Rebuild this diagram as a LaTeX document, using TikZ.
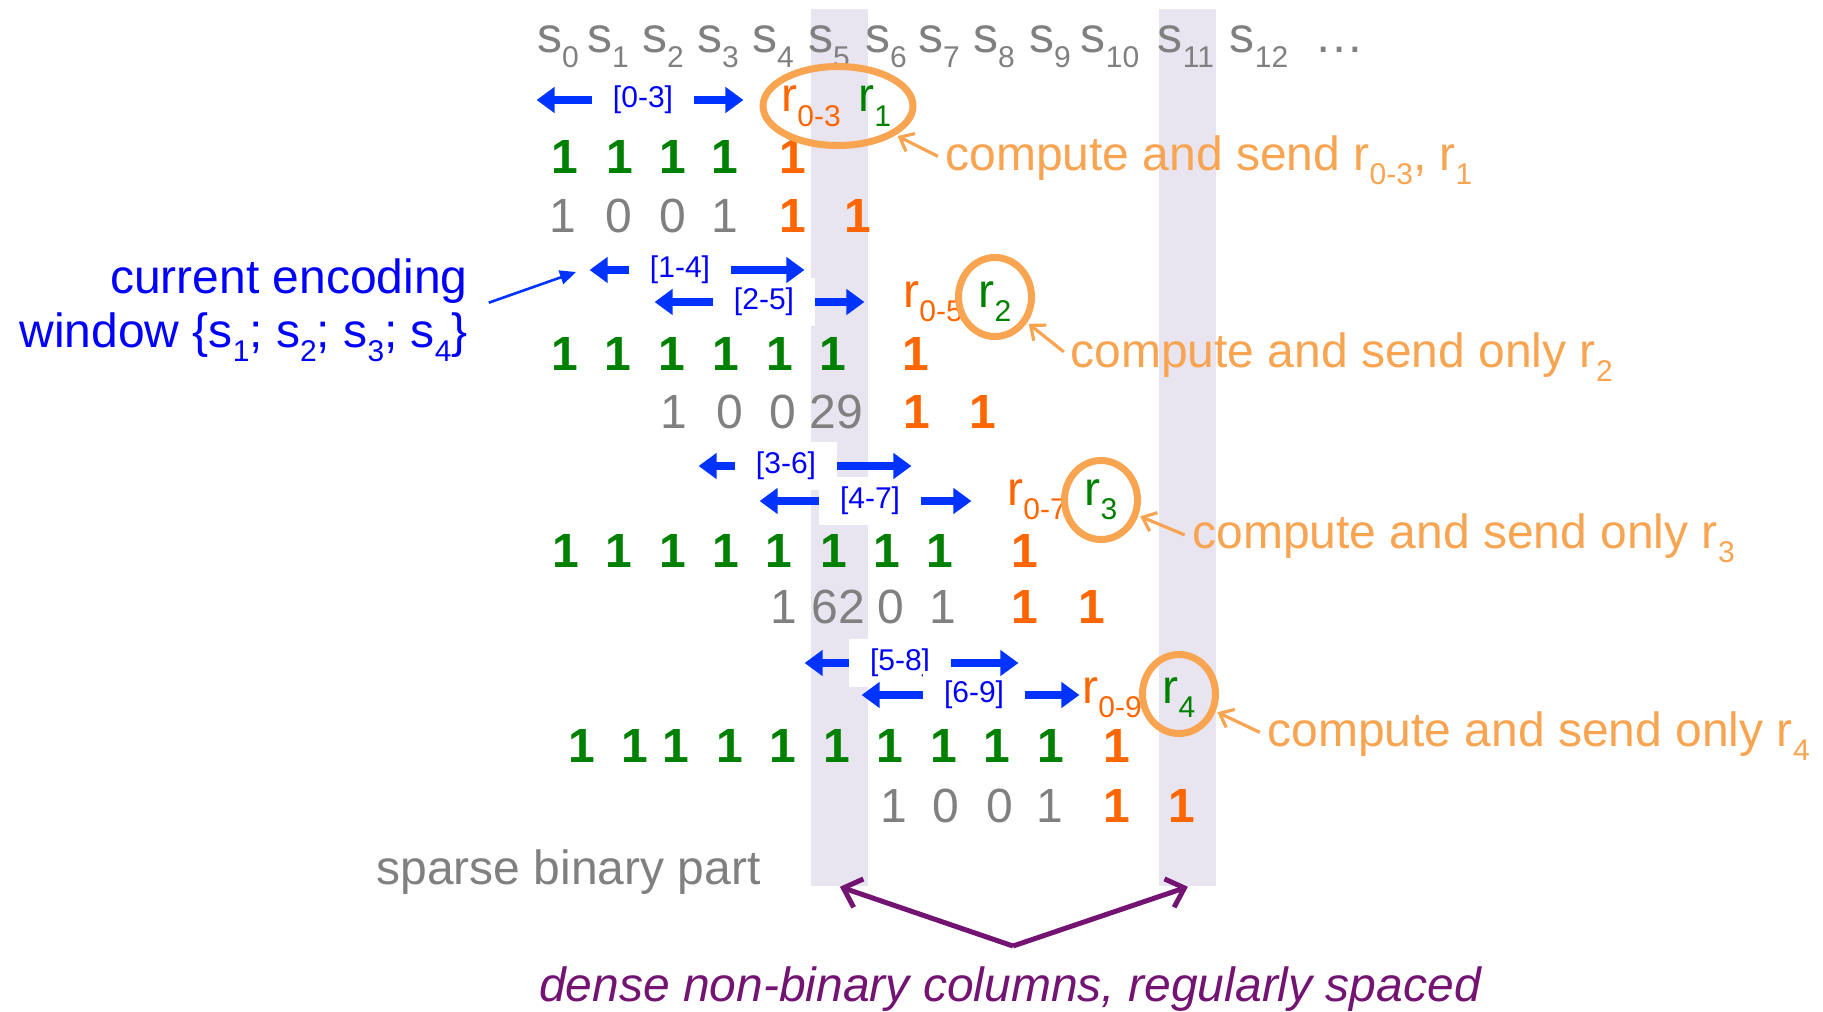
\documentclass[tikz,border=0pt]{standalone}
\usepackage{fontspec}
\setmainfont{Liberation Sans}
\usepackage{xcolor}
\usepackage{tikz}
\usetikzlibrary{calc,positioning,shapes.geometric,arrows.meta}

\definecolor{hdrGray}{RGB}{128,128,128}
\definecolor{bitGreen}{RGB}{0,128,0}
\definecolor{bitOrange}{RGB}{255,102,0}
\definecolor{noteOrange}{RGB}{249,164,81}
\definecolor{winBlue}{RGB}{0,51,255}
\definecolor{txtBlue}{RGB}{0,0,255}
\definecolor{denseShade}{RGB}{232,228,240}
\definecolor{densePurple}{RGB}{115,20,115}

% lowered index, used for s_i and r_i
\newcommand{\subIdx}[1]{\raisebox{-0.3em}{\fontsize{15}{15}\selectfont #1}}

\begin{document}
\begin{tikzpicture}[x=0.5pt, y=-0.5pt]
  % one unit = one pixel of the 1823 x 1011 sheet, y pointing down
  \tikzset{
    hdrCell/.style={anchor=base, inner sep=0pt, text=hdrGray, font=\fontsize{25}{28}\selectfont},
    oneBit/.style={anchor=base, inner sep=0pt, text=bitGreen, font=\fontsize{24}{27}\selectfont\bfseries},
    parBit/.style={oneBit, text=bitOrange},
    rawBit/.style={anchor=base, inner sep=0pt, text=hdrGray, font=\fontsize{24}{27}\selectfont},
    winLabel/.style={fill=white, inner xsep=10.5pt, inner ysep=5pt, text=txtBlue, font=\fontsize{15}{17}\selectfont},
    winArrow/.style={draw=winBlue, line width=4pt, -{Triangle[length=9pt,width=12.5pt]}},
    redLabel/.style={anchor=base west, inner sep=0pt, text=bitOrange, font=\fontsize{24}{27}\selectfont},
    greenLabel/.style={redLabel, text=bitGreen},
    pickEllipse/.style={draw=noteOrange, line width=3.5pt, ellipse, inner sep=0pt},
    noteText/.style={anchor=base west, inner sep=0pt, text=noteOrange, font=\fontsize{24}{27}\selectfont},
    notePtr/.style={draw=noteOrange, line width=1.6pt, shorten <=4pt, shorten >=1pt, -{Straight Barb[length=6pt,width=10pt]}},
    curText/.style={inner sep=0pt, align=right, text=txtBlue, font=\fontsize{24}{27}\selectfont},
    curPtr/.style={draw=winBlue, line width=1.3pt, shorten <=11pt, -{Triangle[length=8pt,width=7pt]}},
    denseCol/.style={draw=none, fill=denseShade, inner sep=0pt, minimum width=28.5pt, minimum height=438.5pt, anchor=north west},
    denseArrow/.style={draw=densePurple, line width=2.5pt, -{Straight Barb[length=8pt,width=15pt]}},
    sideText/.style={inner sep=0pt, text=hdrGray, font=\fontsize{24}{27}\selectfont}
  }
  \useasboundingbox (0,0) rectangle (1823,1011);

% --- Dense columns (background) ---
  \node[denseCol] (col5) at (811,9) {};
  \node[denseCol] (col11) at (1159,9) {};

% --- Window labels, white boxes first ---
  \node[winLabel] (w03) at (643,100) {[0-3]};
  \node[winLabel] (w14) at (680,270) {[1-4]};
  \node[winLabel] (w25) at (764,302) {[2-5]};
  \node[winLabel] (w36) at (786,466) {[3-6]};
  \node[winLabel] (w47) at (870,501) {[4-7]};
  \node[winLabel] (w58) at (900,663) {[5-8]};
  \node[winLabel] (w69) at (974,695) {[6-9]};

  \draw[winArrow] (w03.west) -- ++(-55,0);
  \draw[winArrow] (w03.east) -- ++(49,0);
  \draw[winArrow] (w14.west) -- ++(-39,0);
  \draw[winArrow] (w14.east) -- ++(73,0);
  \draw[winArrow] (w25.west) -- ++(-58,0);
  \draw[winArrow] (w25.east) -- ++(49,0);
  \draw[winArrow] (w36.west) -- ++(-36,0);
  \draw[winArrow] (w36.east) -- ++(74,0);
  \draw[winArrow] (w47.west) -- ++(-59,0);
  \draw[winArrow] (w47.east) -- ++(50,0);
  \draw[winArrow] (w58.west) -- ++(-44,0);
  \draw[winArrow] (w58.east) -- ++(67,0);
  \draw[winArrow] (w69.west) -- ++(-61,0);
  \draw[winArrow] (w69.east) -- ++(54,0);

% --- Header row s_0 ... s_12 ---
  \node[hdrCell] (s0) at (558,53) {s\subIdx{0}};
  \node[hdrCell] (s1) at (608,53) {s\subIdx{1}};
  \node[hdrCell] (s2) at (663,53) {s\subIdx{2}};
  \node[hdrCell] (s3) at (718,53) {s\subIdx{3}};
  \node[hdrCell] (s4) at (773,53) {s\subIdx{4}};
  \node[hdrCell] (s5) at (829,53) {s\subIdx{5}};
  \node[hdrCell] (s6) at (886,53) {s\subIdx{6}};
  \node[hdrCell] (s7) at (939,53) {s\subIdx{7}};
  \node[hdrCell] (s8) at (994,53) {s\subIdx{8}};
  \node[hdrCell] (s9) at (1050,53) {s\subIdx{9}};
  \node[hdrCell] (s10) at (1110,53) {s\subIdx{10}};
  \node[hdrCell] (s11) at (1186,53) {s\subIdx{11}};
  \node[hdrCell] (s12) at (1259,53) {s\subIdx{12}};
  \node[hdrCell] (sDots) at (1339,53) {\dots};

% --- Block 1 ---
  \node[redLabel] (r03) at (781,112) {r\subIdx{0-3}};
  \node[greenLabel] (rr1) at (858,112) {r\subIdx{1}};

  \node[oneBit] (b1-one-0) at (565,173) {1};
  \node[oneBit] (b1-one-1) at (620,173) {1};
  \node[oneBit] (b1-one-2) at (673,173) {1};
  \node[oneBit] (b1-one-3) at (725,173) {1};
  \node[parBit] (b1-par-0) at (793,173) {1};

  \node[rawBit] (b1-raw-0) at (563,232) {1};
  \node[rawBit] (b1-raw-1) at (619,232) {0};
  \node[rawBit] (b1-raw-2) at (673,232) {0};
  \node[rawBit] (b1-raw-3) at (725,232) {1};
  \node[parBit] (b1-par-1) at (793,232) {1};
  \node[parBit] (b1-par-2) at (858,232) {1};

% --- Block 2 ---
  \node[redLabel] (r05) at (903,307) {r\subIdx{0-5}};
  \node[greenLabel, anchor=base] (rr2) at (995,307) {r\subIdx{2}};

  \node[oneBit] (b2-one-0) at (565,370) {1};
  \node[oneBit] (b2-one-1) at (618,370) {1};
  \node[oneBit] (b2-one-2) at (672,370) {1};
  \node[oneBit] (b2-one-3) at (726,370) {1};
  \node[oneBit] (b2-one-4) at (780,370) {1};
  \node[oneBit] (b2-one-5) at (833,370) {1};
  \node[parBit] (b2-par-0) at (916,370) {1};

  \node[rawBit] (b2-raw-0) at (674,428) {1};
  \node[rawBit] (b2-raw-1) at (730,428) {0};
  \node[rawBit] (b2-raw-2) at (783,428) {0};
  \node[rawBit] (b2-raw-3) at (836,428) {29};
  \node[parBit] (b2-par-1) at (917,428) {1};
  \node[parBit] (b2-par-2) at (983,428) {1};

% --- Block 3 ---
  \node[redLabel] (r07) at (1007,505) {r\subIdx{0-7}};
  \node[greenLabel, anchor=base] (rr3) at (1101,505) {r\subIdx{3}};

  \node[oneBit] (b3-one-0) at (566,567) {1};
  \node[oneBit] (b3-one-1) at (619,567) {1};
  \node[oneBit] (b3-one-2) at (673,567) {1};
  \node[oneBit] (b3-one-3) at (726,567) {1};
  \node[oneBit] (b3-one-4) at (779,567) {1};
  \node[oneBit] (b3-one-5) at (834,567) {1};
  \node[oneBit] (b3-one-6) at (887,567) {1};
  \node[oneBit] (b3-one-7) at (940,567) {1};
  \node[parBit] (b3-par-0) at (1025,567) {1};

  \node[rawBit] (b3-raw-0) at (784,623) {1};
  \node[rawBit] (b3-raw-1) at (838,623) {62};
  \node[rawBit] (b3-raw-2) at (891,623) {0};
  \node[rawBit] (b3-raw-3) at (943,623) {1};
  \node[parBit] (b3-par-1) at (1025,623) {1};
  \node[parBit] (b3-par-2) at (1092,623) {1};

% --- Block 4 ---
  \node[redLabel] (r09) at (1082,703) {r\subIdx{0-9}};
  \node[greenLabel, anchor=base] (rr4) at (1179,703) {r\subIdx{4}};

  \node[oneBit] (b4-one-0) at (582,762) {1};
  \node[oneBit] (b4-one-1) at (635,762) {1};
  \node[oneBit] (b4-one-2) at (676,762) {1};
  \node[oneBit] (b4-one-3) at (730,762) {1};
  \node[oneBit] (b4-one-4) at (783,762) {1};
  \node[oneBit] (b4-one-5) at (837,762) {1};
  \node[oneBit] (b4-one-6) at (890,762) {1};
  \node[oneBit] (b4-one-7) at (944,762) {1};
  \node[oneBit] (b4-one-8) at (997,762) {1};
  \node[oneBit] (b4-one-9) at (1051,762) {1};
  \node[parBit] (b4-par-0) at (1117,762) {1};

  \node[rawBit] (b4-raw-0) at (894,822) {1};
  \node[rawBit] (b4-raw-1) at (946,822) {0};
  \node[rawBit] (b4-raw-2) at (1000,822) {0};
  \node[rawBit] (b4-raw-3) at (1050,822) {1};
  \node[parBit] (b4-par-1) at (1117,822) {1};
  \node[parBit] (b4-par-2) at (1182,822) {1};

% --- Picked values, ringed ---
  \node[pickEllipse, minimum width=75pt, minimum height=39.5pt] (pick1) at (838,106) {};
  \node[pickEllipse, minimum width=36.5pt, minimum height=39.5pt] (pick2) at (995,297) {};
  \node[pickEllipse, minimum width=36.5pt, minimum height=39.5pt] (pick3) at (1101,500) {};
  \node[pickEllipse, minimum width=36.5pt, minimum height=39.5pt] (pick4) at (1179,694) {};

  \node[noteText] (note1) at (945,170) {compute and send r\subIdx{0-3}, r\subIdx{1}};
  \node[noteText] (note2) at (1070,367) {compute and send only r\subIdx{2}};
  \node[noteText] (note3) at (1192,548) {compute and send only r\subIdx{3}};
  \node[noteText] (note4) at (1267,746) {compute and send only r\subIdx{4}};

  \draw[notePtr] (note1.west) -- (pick1);
  \draw[notePtr] (note2.west) -- (pick2);
  \draw[notePtr] (note3.west) -- (pick3);
  \draw[notePtr] (note4.west) -- (pick4);

% --- Encoding window note ---
  \node[curText, anchor=east] (curWin) at (468,310) {current encoding\\window \{s\subIdx{1}; s\subIdx{2}; s\subIdx{3}; s\subIdx{4}\}};
  \coordinate (winTip) at (576,272);
  \draw[curPtr] (curWin.east) -- (winTip);

% --- Bottom notes ---
  \node[sideText, anchor=base west] (sparseLbl) at (376,884) {sparse binary part};
  \coordinate (apex) at (1013,946);
  \draw[denseArrow] (apex) -- (col5.south);
  \draw[denseArrow] (apex) -- (col11.south);
  \node[sideText, anchor=base, text=densePurple, font=\fontsize{24}{27}\selectfont\itshape] (denseLbl) at (1010,1001) {dense non-binary columns, regularly spaced};

\end{tikzpicture}
\end{document}
